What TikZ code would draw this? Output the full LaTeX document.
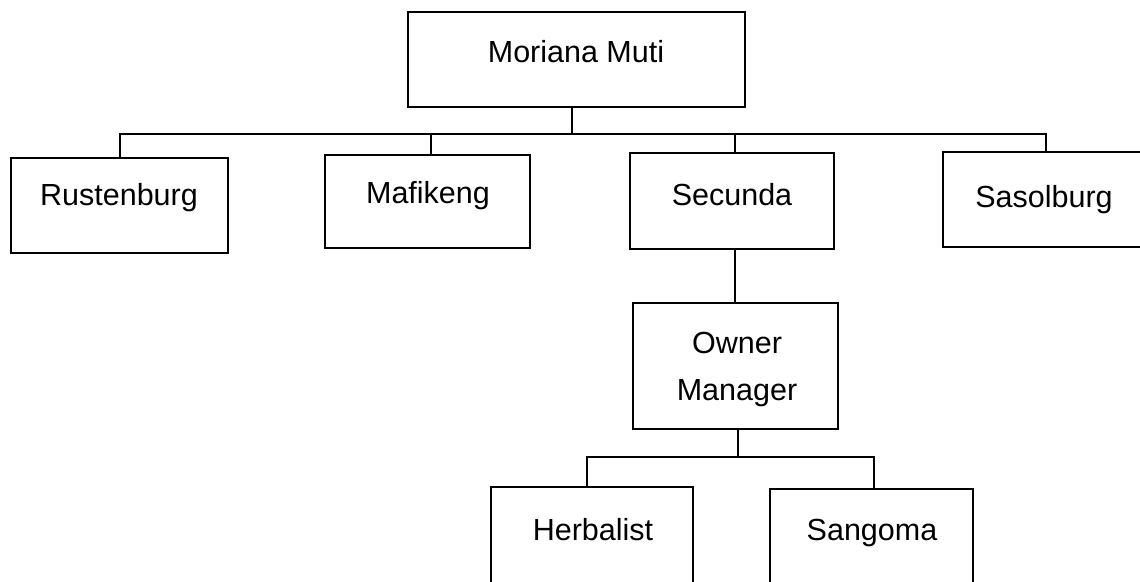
\documentclass[tikz,border=0pt]{standalone}
\usepackage{fontspec}
\setmainfont{Liberation Sans}
\usetikzlibrary{fit}
\begin{document}
\begin{tikzpicture}[x=1pt,y=-1pt,
  box/.style={draw, line width=2.4pt, inner sep=0pt, rectangle},
  lbl/.style={anchor=base, inner sep=0pt, font=\fontsize{30.5}{36}\selectfont},
  link/.style={line width=2pt},
  thinlink/.style={line width=1.5pt}]
\useasboundingbox (0,0) rectangle (1140,581);

% boxes
\node[box, fit={(408,12) (745,107)}] (muti) {};
\node[box, fit={(11,158) (228,253)}] (rust) {};
\node[box, fit={(325,155) (530,248)}] (maf) {};
\node[box, fit={(630,153) (834,249)}] (sec) {};
\node[box, fit={(943,152) (1147,247)}] (sasol) {};
\node[box, fit={(633,303) (838,429)}] (owner) {};
\node[box, fit={(491,487) (693,595)}] (herb) {};
\node[box, fit={(770,489) (973,595)}] (sang) {};

% labels
\node[lbl] (mutiT) at (576,62) {Moriana Muti};
\node[lbl] (rustT) at (119,205) {Rustenburg};
\node[lbl] (mafT) at (428,203) {Mafikeng};
\node[lbl] (secT) at (732,205) {Secunda};
\node[lbl] (sasolT) at (1044,207) {Sasolburg};
\node[lbl] (ownerT) at (737,353) {Owner};
\node[lbl] (ownerT2) at (737,400) {Manager};
\node[lbl] (herbT) at (593,540) {Herbalist};
\node[lbl] (sangT) at (872,540) {Sangoma};

% branch points
\coordinate (busM) at (572,134);
\coordinate (busR) at (120,134);
\coordinate (busF) at (431,134);
\coordinate (busC) at (735,134);
\coordinate (busS) at (1046,134);
\coordinate (subO) at (738,457);
\coordinate (subH) at (587,457);
\coordinate (subG) at (874,457);

% connectors
\draw[link] (muti.south -| busM) -- (busM);
\draw[link] (rust.north -| busR) -- (busR) -- (busS) -- (sasol.north -| busS);
\draw[link] (maf.north -| busF) -- (busF);
\draw[link] (sec.north -| busC) -- (busC);
\draw[link, line width=2.4pt] (sec.south -| busC) -- (owner.north -| busC);
\draw[thinlink] (owner.south -| subO) -- (subO);
\draw[thinlink] (herb.north -| subH) -- (subH) -- (subG) -- (sang.north -| subG);
\end{tikzpicture}
\end{document}
